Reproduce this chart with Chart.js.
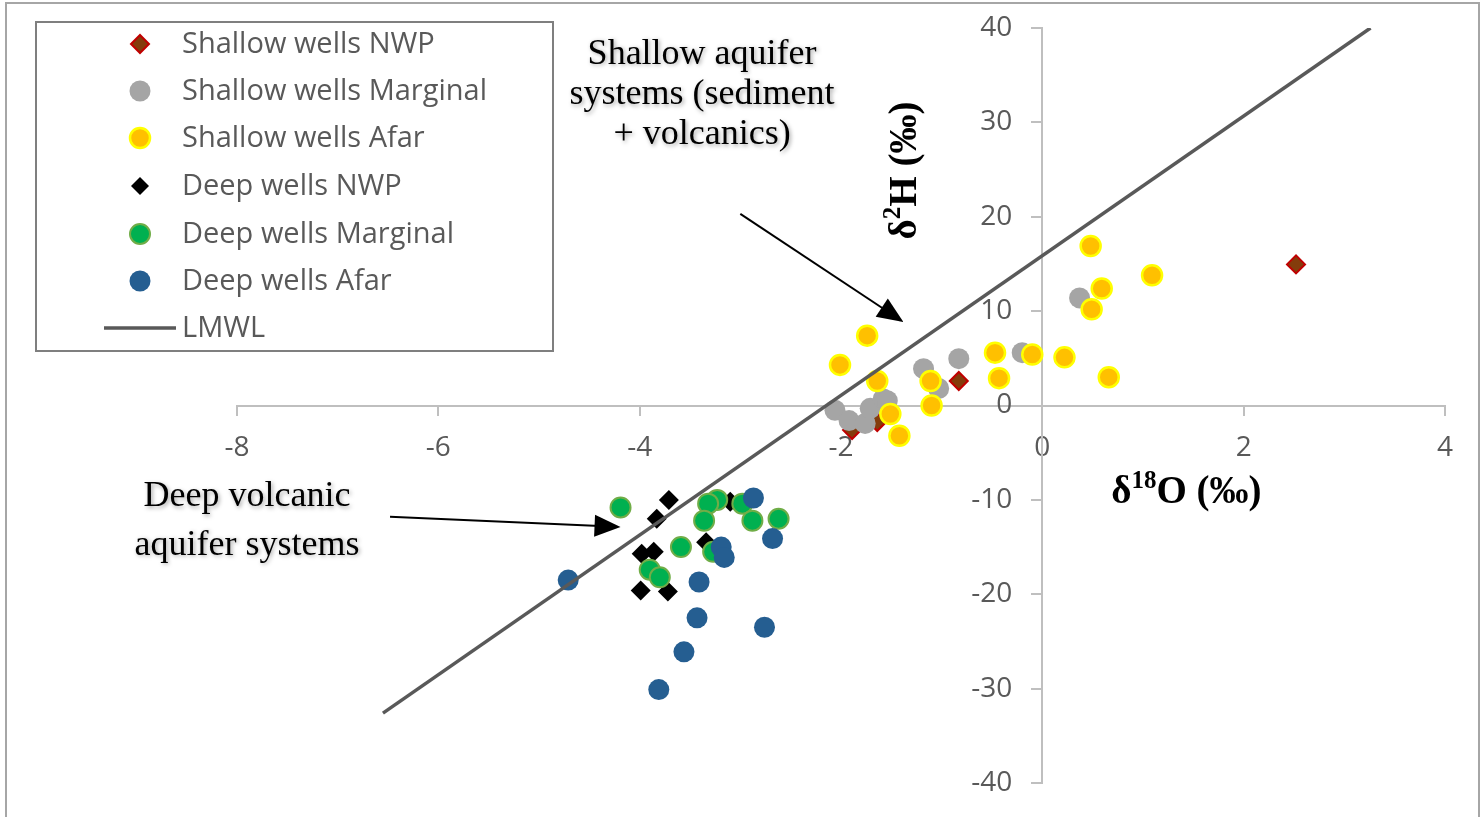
<!DOCTYPE html>
<html><head><meta charset="utf-8">
<script src="https://cdn.jsdelivr.net/npm/chart.js@4.4.1/dist/chart.umd.min.js"></script>
<style>html,body{margin:0;padding:0;background:#fff;overflow:hidden}#wrap{position:relative;width:1484px;height:817px}</style>
</head><body><div id="wrap"><canvas id="c" width="1484" height="817"></canvas></div>
<script>
// ---- data (δ18O, δ2H in ‰) ----
const seriesNames = ["Shallow wells NWP","Shallow wells Marginal","Shallow wells Afar","Deep wells NWP","Deep wells Marginal","Deep wells Afar","LMWL"];
const shallowNwpX = [2.52, -0.83, -1.89, -1.64];
const shallowNwpY = [14.95, 2.6, -2.6, -1.75];
const shallowMarginalX = [0.37, -0.20, -0.83, -1.18, -1.03, -2.06, -1.92, -1.76, -1.71, -1.58, -1.54];
const shallowMarginalY = [11.4, 5.6, 4.96, 3.9, 1.8, -0.5, -1.6, -1.9, -0.3, 0.7, 0.5];
const shallowAfarX = [-1.74, -2.01, -1.64, -1.51, -1.42, -1.11, -1.10, -0.47, -0.43, 0.48, 1.09, 0.59, 0.49, -0.10, 0.22, 0.66];
const shallowAfarY = [7.4, 4.3, 2.6, -0.9, -3.2, 2.6, 0.0, 5.6, 2.9, 16.9, 13.8, 12.4, 10.2, 5.4, 5.1, 3.0];
const deepNwpX = [-3.71, -3.83, -3.98, -3.86, -3.99, -3.72, -3.34, -3.10];
const deepNwpY = [-10.0, -12.0, -15.7, -15.5, -19.6, -19.7, -14.5, -10.2];
const deepMarginalX = [-4.19, -3.23, -3.32, -3.36, -2.98, -2.88, -2.62, -3.59, -3.27, -3.90, -3.80];
const deepMarginalY = [-10.8, -10.0, -10.4, -12.2, -10.4, -12.2, -12.0, -15.0, -15.5, -17.4, -18.2];
const deepAfarX = [-2.87, -2.68, -3.19, -3.16, -4.71, -3.41, -3.43, -2.76, -3.56, -3.81];
const deepAfarY = [-9.8, -14.1, -15.0, -16.1, -18.5, -18.7, -22.5, -23.5, -26.1, -30.1];
const lmwlX = [-6.55, 3.26];
const lmwlY = [-32.6, 40.0];
const xTicks = [-8, -6, -4, -2, 0, 2, 4];
const yTicks = [-40, -30, -20, -10, 0, 10, 20, 30, 40];

function pts(xs, ys){ return xs.map((x,i)=>({x:x, y:ys[i]})); }

const FONT_SANS = '"Open Sans", "Liberation Sans", sans-serif';
const FONT_SERIF = '"Liberation Serif", "DejaVu Serif", serif';
const TICK_COLOR = '#595959';
const TICK_SIZE = 28;

const datasets = [
  {label: seriesNames[0], data: pts(shallowNwpX, shallowNwpY), pointStyle:'rectRot', pointRadius:9, backgroundColor:'#843c0c', borderColor:'#c00000', borderWidth:2, order:7},
  {label: seriesNames[1], data: pts(shallowMarginalX, shallowMarginalY), pointStyle:'circle', pointRadius:10.5, backgroundColor:'#a5a5a5', borderColor:'#a5a5a5', borderWidth:0, order:6},
  {label: seriesNames[2], data: pts(shallowAfarX, shallowAfarY), pointStyle:'circle', pointRadius:10, backgroundColor:'#ffc000', borderColor:'#ffff00', borderWidth:2.5, order:5},
  {label: seriesNames[3], data: pts(deepNwpX, deepNwpY), pointStyle:'rectRot', pointRadius:10, backgroundColor:'#000000', borderColor:'#000000', borderWidth:0, order:4},
  {label: seriesNames[4], data: pts(deepMarginalX, deepMarginalY), pointStyle:'circle', pointRadius:10, backgroundColor:'#00b050', borderColor:'#70ad47', borderWidth:2, order:3},
  {label: seriesNames[5], data: pts(deepAfarX, deepAfarY), pointStyle:'circle', pointRadius:10.5, backgroundColor:'#255e91', borderColor:'#255e91', borderWidth:0, order:2},
  {label: seriesNames[6], data: pts(lmwlX, lmwlY), showLine:true, pointRadius:0, borderColor:'#595959', borderWidth:3.5, backgroundColor:'#595959', order:1}
];

function drawRich(ctx, parts, cx, cy, size){
  let w = 0;
  const fontOf = p => 'bold ' + (p.sup ? Math.round(size*0.64) : size) + 'px ' + FONT_SERIF;
  const measure = parts.map(p => { ctx.font = fontOf(p); const m = ctx.measureText(p.t).width; w += m; return m; });
  let x = cx - w/2;
  parts.forEach((p,i) => {
    ctx.font = fontOf(p);
    ctx.fillText(p.t, x, p.sup ? cy - size*0.3 : cy);
    x += measure[i];
  });
}

function arrow(ctx, x1, y1, x2, y2){
  const ang = Math.atan2(y2-y1, x2-x1), L = 26, H = 11;
  ctx.save();
  ctx.strokeStyle = '#000'; ctx.fillStyle = '#000'; ctx.lineWidth = 2;
  ctx.beginPath(); ctx.moveTo(x1,y1);
  ctx.lineTo(x2 - Math.cos(ang)*L*0.8, y2 - Math.sin(ang)*L*0.8); ctx.stroke();
  ctx.beginPath();
  ctx.moveTo(x2, y2);
  ctx.lineTo(x2 - Math.cos(ang)*L + Math.sin(ang)*H, y2 - Math.sin(ang)*L - Math.cos(ang)*H);
  ctx.lineTo(x2 - Math.cos(ang)*L - Math.sin(ang)*H, y2 - Math.sin(ang)*L + Math.cos(ang)*H);
  ctx.closePath(); ctx.fill();
  ctx.restore();
}

const decor = {
  id: 'decor',
  beforeDraw(chart){
    const ctx = chart.ctx;
    ctx.save();
    ctx.fillStyle = '#fff'; ctx.fillRect(0,0,chart.width,chart.height);
    ctx.strokeStyle = '#a6a6a6'; ctx.lineWidth = 2;
    ctx.strokeRect(6, 3, 1473, 820);
    ctx.restore();
  },
  afterDraw(chart){
    const ctx = chart.ctx, xs = chart.scales.x, ys = chart.scales.y;
    const px = v => xs.getPixelForValue(v), py = v => ys.getPixelForValue(v);
    ctx.save();
    // y tick labels (left of the crossing axis)
    ctx.fillStyle = TICK_COLOR;
    ctx.font = TICK_SIZE + 'px ' + FONT_SANS;
    ctx.textAlign = 'right'; ctx.textBaseline = 'middle';
    yTicks.forEach(v => ctx.fillText(String(v), px(0) - 30, py(v)));
    // legend box
    ctx.fillStyle = '#fff';
    ctx.fillRect(36, 22, 517, 329);
    ctx.strokeStyle = '#7f7f7f'; ctx.lineWidth = 2;
    ctx.strokeRect(36, 22, 517, 329);
    const rows = [44, 91, 138, 186, 234, 281, 328];
    ctx.textAlign = 'left'; ctx.textBaseline = 'middle';
    chart.data.datasets.forEach((ds, i) => {
      const y = rows[i];
      if (ds.showLine) {
        ctx.strokeStyle = ds.borderColor; ctx.lineWidth = ds.borderWidth;
        ctx.beginPath(); ctx.moveTo(104, y); ctx.lineTo(176, y); ctx.stroke();
      } else {
        ctx.fillStyle = ds.backgroundColor; ctx.strokeStyle = ds.borderColor; ctx.lineWidth = ds.borderWidth;
        Chart.helpers.drawPoint(ctx, {pointStyle: ds.pointStyle, radius: ds.pointStyle==='rectRot'?9:ds.pointRadius, rotation:0, borderWidth: ds.borderWidth}, 140, y);
      }
      ctx.fillStyle = '#595959';
      ctx.font = '29px ' + FONT_SANS;
      ctx.fillText(ds.label, 182, y + 1);
    });
    // annotations
    ctx.fillStyle = '#000';
    ctx.shadowColor = 'rgba(0,0,0,0.35)'; ctx.shadowBlur = 4; ctx.shadowOffsetX = 1.5; ctx.shadowOffsetY = 1.5;
    ctx.textAlign = 'center'; ctx.textBaseline = 'middle';
    ctx.font = '36px ' + FONT_SERIF;
    ctx.fillText('Shallow aquifer', px(-3.38), py(37.2));
    ctx.fillText('systems (sediment', px(-3.38), py(32.9));
    ctx.fillText('+ volcanics)', px(-3.38), py(28.7));
    ctx.fillText('Deep volcanic', px(-7.9), py(-9.7));
    ctx.fillText('aquifer systems', px(-7.9), py(-14.8));
    ctx.shadowColor = 'rgba(0,0,0,0)'; ctx.shadowBlur = 0; ctx.shadowOffsetX = 0; ctx.shadowOffsetY = 0;
    arrow(ctx, px(-3.0), py(20.3), px(-1.38), py(8.85));
    arrow(ctx, px(-6.48), py(-11.8), px(-4.19), py(-12.87));
    // axis titles
    ctx.fillStyle = '#000';
    ctx.textAlign = 'left';
    drawRich(ctx, [{t:'δ'},{t:'18',sup:true},{t:'O (‰)'}], px(1.43), py(-9.3), 39);
    ctx.save();
    ctx.translate(px(-1.36), py(24.9));
    ctx.rotate(-Math.PI/2);
    drawRich(ctx, [{t:'δ'},{t:'2',sup:true},{t:'H (‰)'}], 0, 0, 39);
    ctx.restore();
    ctx.restore();
  }
};

new Chart(document.getElementById('c'), {
  type: 'scatter',
  data: { datasets: datasets },
  options: {
    responsive: false, animation: false, devicePixelRatio: 1,
    layout: { padding: { left: 237, right: 39, top: 28, bottom: 34 } },
    plugins: { legend: { display: false }, tooltip: { enabled: false } },
    scales: {
      x: {
        type: 'linear', min: -8, max: 4, position: { y: 0 },
        afterBuildTicks: s => { s.ticks = xTicks.map(v => ({value: v})); },
        ticks: { color: TICK_COLOR, font: { family: FONT_SANS, size: TICK_SIZE }, padding: 17 },
        grid: { drawOnChartArea: false, drawTicks: true, tickLength: 9, color: '#bfbfbf', lineWidth: 2 },
        border: { display: true, color: '#bfbfbf', width: 2 }
      },
      y: {
        type: 'linear', min: -40, max: 40, position: { x: 0 },
        afterBuildTicks: s => { s.ticks = yTicks.map(v => ({value: v})); },
        ticks: { display: false },
        grid: { drawOnChartArea: false, drawTicks: true, tickLength: 10, color: '#bfbfbf', lineWidth: 2 },
        border: { display: true, color: '#bfbfbf', width: 2 }
      }
    }
  },
  plugins: [decor]
});
</script></body></html>
